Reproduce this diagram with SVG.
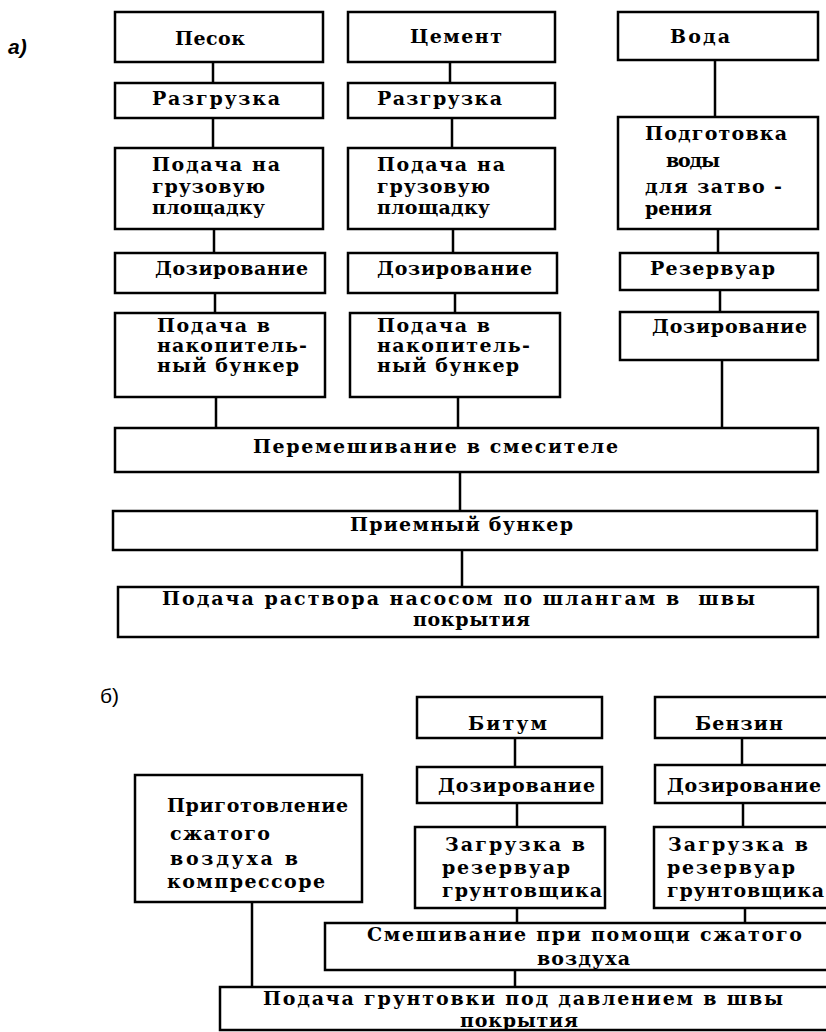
<svg xmlns="http://www.w3.org/2000/svg" width="826" height="1032" viewBox="0 0 826 1032">
<style>
.b{fill:#fff;stroke:#000;stroke-width:2.5}
.c{stroke:#000;stroke-width:2.5;fill:none}
.t{font-family:"DejaVu Serif","Liberation Serif",serif;font-weight:bold;font-size:19px;fill:#000}
.lbl{font-family:"Liberation Sans",sans-serif;font-size:21px;fill:#000}
</style>
<rect width="826" height="1032" fill="#fff"/>
<text class="lbl" x="8" y="54" font-style="italic" font-weight="bold">а)</text>
<text class="lbl" x="100" y="703">б)</text>
<g id="connectors">
<path class="c" d="M213 62V83M213 118V148M214 229V253M215 293V313M216 397V428"/>
<path class="c" d="M450 62V83M452 118V148M453 229V253M455 293V313M458 397V428"/>
<path class="c" d="M715 60V117M718 229V253M720 290V312M722 360V428"/>
<path class="c" d="M460 472V511M462 550V587"/>
<path class="c" d="M515 738V767M517 803V827M517 908V923M515 970V987"/>
<path class="c" d="M742 738V765M743 803V827M745 908V923"/>
<path class="c" d="M252 902V987"/>
</g>
<g id="pesok"><rect class="b" x="115" y="12" width="208" height="50"/><text class="t" x="175" y="45" textLength="70" lengthAdjust="spacing">Песок</text></g>
<g id="pesok-razgr"><rect class="b" x="115" y="83" width="208" height="35"/><text class="t" x="152" y="105" textLength="128" lengthAdjust="spacing">Разгрузка</text></g>
<g id="pesok-podacha"><rect class="b" x="115" y="148" width="208" height="81"/><text class="t" x="152" y="171" textLength="128" lengthAdjust="spacing">Подача на</text><text class="t" x="152" y="193" textLength="113" lengthAdjust="spacing">грузовую</text><text class="t" x="152" y="214" textLength="113" lengthAdjust="spacing">площадку</text></g>
<g id="pesok-doz"><rect class="b" x="115" y="253" width="210" height="40"/><text class="t" x="155" y="275" textLength="153" lengthAdjust="spacing">Дозирование</text></g>
<g id="pesok-bunker"><rect class="b" x="115" y="313" width="210" height="84"/><text class="t" x="157" y="332" textLength="113" lengthAdjust="spacing">Подача в</text><text class="t" x="157" y="352" textLength="150" lengthAdjust="spacing">накопитель-</text><text class="t" x="157" y="372" textLength="142" lengthAdjust="spacing">ный бункер</text></g>
<g id="cement"><rect class="b" x="348" y="12" width="207" height="50"/><text class="t" x="410" y="43" textLength="92" lengthAdjust="spacing">Цемент</text></g>
<g id="cement-razgr"><rect class="b" x="348" y="83" width="207" height="35"/><text class="t" x="377" y="105" textLength="125" lengthAdjust="spacing">Разгрузка</text></g>
<g id="cement-podacha"><rect class="b" x="348" y="148" width="207" height="81"/><text class="t" x="377" y="171" textLength="128" lengthAdjust="spacing">Подача на</text><text class="t" x="377" y="193" textLength="113" lengthAdjust="spacing">грузовую</text><text class="t" x="377" y="214" textLength="113" lengthAdjust="spacing">площадку</text></g>
<g id="cement-doz"><rect class="b" x="348" y="253" width="209" height="40"/><text class="t" x="377" y="275" textLength="155" lengthAdjust="spacing">Дозирование</text></g>
<g id="cement-bunker"><rect class="b" x="350" y="313" width="210" height="84"/><text class="t" x="377" y="332" textLength="113" lengthAdjust="spacing">Подача в</text><text class="t" x="377" y="352" textLength="153" lengthAdjust="spacing">накопитель-</text><text class="t" x="377" y="372" textLength="142" lengthAdjust="spacing">ный бункер</text></g>
<g id="voda"><rect class="b" x="618" y="12" width="200" height="48"/><text class="t" x="670" y="43" textLength="60" lengthAdjust="spacing">Вода</text></g>
<g id="voda-podg"><rect class="b" x="618" y="117" width="200" height="112"/><text class="t" x="645" y="140" textLength="142" lengthAdjust="spacing">Подготовка</text><text class="t" x="666" y="167" textLength="54" lengthAdjust="spacing">воды</text><text class="t" x="645" y="193" textLength="137" lengthAdjust="spacing">для затво -</text><text class="t" x="645" y="215" textLength="67" lengthAdjust="spacing">рения</text></g>
<g id="voda-rez"><rect class="b" x="620" y="253" width="198" height="37"/><text class="t" x="650" y="275" textLength="125" lengthAdjust="spacing">Резервуар</text></g>
<g id="voda-doz"><rect class="b" x="620" y="312" width="198" height="48"/><text class="t" x="652" y="333" textLength="155" lengthAdjust="spacing">Дозирование</text></g>
<g id="mix"><rect class="b" x="115" y="428" width="703" height="44"/><text class="t" x="253" y="453" textLength="365" lengthAdjust="spacing">Перемешивание в смесителе</text></g>
<g id="priem"><rect class="b" x="113" y="511" width="704" height="39"/><text class="t" x="350" y="531" textLength="223" lengthAdjust="spacing">Приемный бункер</text></g>
<g id="podacha-rastvora"><rect class="b" x="118" y="587" width="700" height="50"/><text class="t" x="162" y="605" textLength="593" lengthAdjust="spacing" xml:space="preserve">Подача раствора насосом по шлангам в  швы</text><text class="t" x="413" y="626" textLength="117" lengthAdjust="spacing">покрытия</text></g>
<g id="bitum"><rect class="b" x="417" y="697" width="185" height="41"/><text class="t" x="468" y="730" textLength="79" lengthAdjust="spacing">Битум</text></g>
<g id="bitum-doz"><rect class="b" x="417" y="767" width="185" height="36"/><text class="t" x="438" y="792" textLength="157" lengthAdjust="spacing">Дозирование</text></g>
<g id="bitum-zagr"><rect class="b" x="415" y="827" width="190" height="81"/><text class="t" x="445" y="851" textLength="140" lengthAdjust="spacing">Загрузка в</text><text class="t" x="442" y="874" textLength="128" lengthAdjust="spacing">резервуар</text><text class="t" x="442" y="897" textLength="160" lengthAdjust="spacing">грунтовщика</text></g>
<g id="benzin"><rect class="b" x="655" y="697" width="190" height="41"/><text class="t" x="695" y="730" textLength="88" lengthAdjust="spacing">Бензин</text></g>
<g id="benzin-doz"><rect class="b" x="655" y="765" width="190" height="38"/><text class="t" x="667" y="792" textLength="154" lengthAdjust="spacing">Дозирование</text></g>
<g id="benzin-zagr"><rect class="b" x="654" y="827" width="190" height="81"/><text class="t" x="668" y="851" textLength="140" lengthAdjust="spacing">Загрузка в</text><text class="t" x="667" y="874" textLength="128" lengthAdjust="spacing">резервуар</text><text class="t" x="667" y="897" textLength="157" lengthAdjust="spacing">грунтовщика</text></g>
<g id="kompressor"><rect class="b" x="135" y="775" width="227" height="127"/><text class="t" x="167" y="812" textLength="181" lengthAdjust="spacing">Приготовление</text><text class="t" x="170" y="840" textLength="100" lengthAdjust="spacing">сжатого</text><text class="t" x="170" y="865" textLength="128" lengthAdjust="spacing">воздуха в</text><text class="t" x="167" y="888" textLength="158" lengthAdjust="spacing">компрессоре</text></g>
<g id="smesh"><rect class="b" x="325" y="923" width="520" height="47"/><text class="t" x="367" y="941" textLength="435" lengthAdjust="spacing">Смешивание при помощи сжатого</text><text class="t" x="537" y="965" textLength="93" lengthAdjust="spacing">воздуха</text></g>
<g id="gruntovka"><rect class="b" x="220" y="987" width="625" height="43"/><text class="t" x="263" y="1005" textLength="520" lengthAdjust="spacing">Подача грунтовки под давлением в швы</text><text class="t" x="460" y="1027" textLength="118" lengthAdjust="spacing">покрытия</text></g>
</svg>
